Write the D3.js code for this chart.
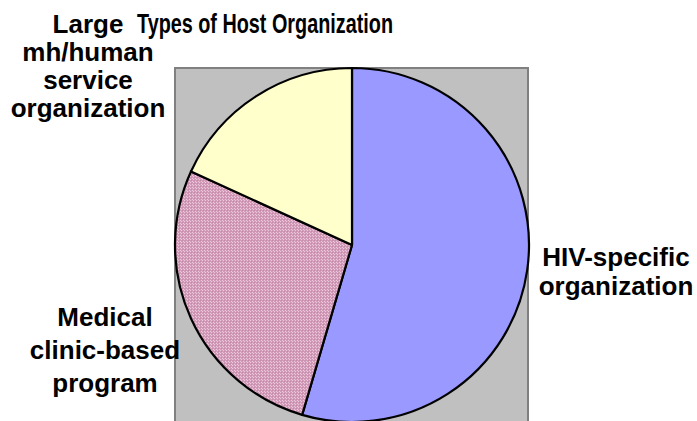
<!DOCTYPE html>
<html>
<head>
<meta charset="utf-8">
<script src="https://cdn.jsdelivr.net/npm/d3@7"></script>
<style>
  html, body { margin: 0; padding: 0; background: #fff; }
  svg { display: block; }
  text { font-family: "Liberation Sans", Arial, sans-serif; font-weight: bold; fill: #000; }
</style>
</head>
<body>
<svg id="chart" width="697" height="421"></svg>
<script>
// Host organization types (counts of sites)
const categories = ["HIV-specific organization", "Medical clinic-based program", "Large mh/human service organization"];
const counts = [6, 3, 2];
const labelLines = [
  ["HIV-specific", "organization"],
  ["Medical", "clinic-based", "program"],
  ["Large", "mh/human", "service", "organization"]
];
const title = "Types of Host Organization";

const svg = d3.select("#chart");

// fine dotted texture used for the clinic slice
const defs = svg.append("defs");
const pat = defs.append("pattern")
  .attr("id", "pinkDots").attr("patternUnits", "userSpaceOnUse")
  .attr("width", 3).attr("height", 3);
pat.append("rect").attr("width", 3).attr("height", 3).attr("fill", "#d19ab8");
pat.append("rect").attr("x", 0).attr("y", 0).attr("width", 1).attr("height", 1).attr("fill", "#ecc8da");
pat.append("rect").attr("x", 1).attr("y", 1).attr("width", 1).attr("height", 1).attr("fill", "#c68aa9");
pat.append("rect").attr("x", 2).attr("y", 2).attr("width", 1).attr("height", 1).attr("fill", "#ecc8da");

const fills = ["#9999ff", "url(#pinkDots)", "#ffffcc"];

// plot area
const plot = { x: 175, y: 68, w: 353, h: 360 };
svg.append("rect")
  .attr("x", plot.x).attr("y", plot.y).attr("width", plot.w).attr("height", plot.h)
  .attr("fill", "#c0c0c0").attr("stroke", "#808080").attr("stroke-width", 2);

const cx = 352, cy = 245, r = 177;
const pie = d3.pie().sort(null).value(d => d);
const arc = d3.arc().innerRadius(0).outerRadius(r);

svg.append("g").attr("transform", `translate(${cx},${cy})`)
  .selectAll("path").data(pie(counts)).join("path")
  .attr("d", arc)
  .attr("fill", (d, i) => fills[i])
  .attr("stroke", "#000").attr("stroke-width", 2.2).attr("stroke-linejoin", "round");

// title
svg.append("text")
  .attr("x", 265).attr("y", 33).attr("text-anchor", "middle")
  .attr("font-size", 28)
  .attr("textLength", 256).attr("lengthAdjust", "spacingAndGlyphs")
  .text(title);

// category labels
const labelPos = [
  { x: 616, y: 266, dy: 29 },
  { x: 105, y: 326, dy: 33 },
  { x: 88, y: 33, dy: 28 }
];
labelLines.forEach((lines, i) => {
  const p = labelPos[i];
  const t = svg.append("text")
    .attr("text-anchor", "middle").attr("font-size", 26)
    .attr("aria-label", categories[i]);
  lines.forEach((ln, j) => {
    t.append("tspan").attr("x", p.x).attr("y", p.y + j * p.dy).text(ln);
  });
});
</script>
</body>
</html>
